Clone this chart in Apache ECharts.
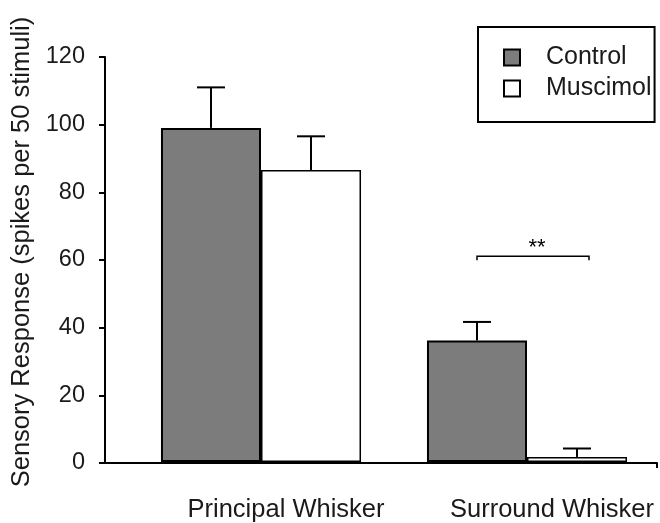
<!DOCTYPE html>
<html><head><meta charset="utf-8">
<script src="https://cdn.jsdelivr.net/npm/echarts@6/dist/echarts.min.js"></script>
<style>html,body{margin:0;padding:0;background:#fff}#c{width:660px;height:523px}</style>
</head><body><div id="c"></div>
<script>
const categories = ['Principal Whisker', 'Surround Whisker'];
const seriesNames = ['Control', 'Muscimol'];
const controlValues = [99, 36];
const controlErrors = [12, 5.5];
const muscimolValues = [86.5, 1.5];
const muscimolErrors = [10, 2.5];
const yMin = 0, yMax = 120, yStep = 20;
const sigCategory = [1];
const sigLevel = [61];
const sigLabel = ['**'];

const CAT_GAP = 0.248;
const FONT = '"Liberation Sans", Arial, sans-serif';
const TXT = '#1a1a1a';

function barOffset(api, sign) {
  const band = api.size([1, 0])[0];
  return sign * band * (1 - CAT_GAP) / 4;
}

function errorBarSeries(values, errors, sign) {
  return {
    type: 'custom', xAxisIndex: 0, yAxisIndex: 0, z: 5, silent: true,
    data: values.map((v, i) => [i, v, errors[i]]),
    encode: { x: 0, y: 1 },
    renderItem: function (params, api) {
      const c = api.value(0), v = api.value(1), e = api.value(2);
      const off = barOffset(api, sign);
      const base = api.coord([c, v]);
      const top = api.coord([c, v + e]);
      const x = base[0] + off;
      const half = 14;
      return { type: 'group', children: [
        { type: 'line', shape: { x1: x, y1: base[1], x2: x, y2: top[1] }, style: { stroke: '#000', lineWidth: 2 } },
        { type: 'line', shape: { x1: x - half, y1: top[1], x2: x + half, y2: top[1] }, style: { stroke: '#000', lineWidth: 2 } }
      ]};
    }
  };
}

const chart = echarts.init(document.getElementById('c'), null, { renderer: 'canvas' });
chart.setOption({
  animation: false,
  backgroundColor: '#fff',
  textStyle: { fontFamily: FONT },
  grid: [
    { left: 128, right: 0, top: 57, bottom: 60 },
    { left: 105, right: 3, top: 57, bottom: 60 }
  ],
  legend: {
    data: seriesNames.map(n => ({ name: n, icon: 'rect' })),
    orient: 'vertical',
    left: 478, top: 27,
    itemWidth: 16, itemHeight: 16,
    itemGap: -12,
    padding: [9, 3, 12, 25],
    borderColor: '#000', borderWidth: 2,
    textStyle: { fontFamily: FONT, fontSize: 25, color: TXT, lineHeight: 25, padding: [18, 0, 0, 21] },
    selectedMode: false
  },
  xAxis: [
    { type: 'category', gridIndex: 0, data: categories,
      axisLine: { show: false }, axisTick: { show: false },
      axisLabel: { interval: 0, hideOverlap: false, margin: 35, fontSize: 25.5, color: TXT, fontFamily: FONT,
        formatter: function (v) { return '{a|' + v + '}'; },
        rich: { a: { fontSize: 25.5, color: TXT, fontFamily: FONT, padding: [0, 0, 0, 50] } } },
      splitLine: { show: false } },
    { type: 'value', gridIndex: 1, min: 0, max: 1, interval: 1,
      axisLine: { show: true, lineStyle: { color: '#000', width: 2 } },
      axisTick: { show: true, length: 5, customValues: [1], lineStyle: { color: '#000', width: 2 } },
      axisLabel: { show: false }, splitLine: { show: false } }
  ],
  yAxis: [
    { type: 'value', gridIndex: 0, min: yMin, max: yMax, interval: yStep, show: false, splitLine: { show: false } },
    { type: 'value', gridIndex: 1, min: yMin, max: yMax, interval: yStep,
      name: 'Sensory Response (spikes per 50 stimuli)', nameLocation: 'middle', nameGap: 63,
      nameTextStyle: { fontSize: 25.5, color: TXT, fontFamily: FONT, padding: [0, 0, 0, 16] },
      axisLine: { show: true, lineStyle: { color: '#000', width: 2 } },
      axisTick: { show: true, length: 6, lineStyle: { color: '#000', width: 2 } },
      axisLabel: { margin: 20, fontSize: 23.5, color: TXT, fontFamily: FONT },
      splitLine: { show: false } }
  ],
  series: [
    { type: 'bar', name: seriesNames[0], xAxisIndex: 0, yAxisIndex: 0, data: controlValues,
      barGap: '0%', barCategoryGap: (CAT_GAP * 100) + '%',
      itemStyle: { color: '#7c7c7c', borderColor: '#000', borderWidth: 2 } },
    { type: 'bar', name: seriesNames[1], xAxisIndex: 0, yAxisIndex: 0, data: muscimolValues,
      itemStyle: { color: '#fff', borderColor: '#000', borderWidth: 1.5 } },
    errorBarSeries(controlValues, controlErrors, -1),
    errorBarSeries(muscimolValues, muscimolErrors, 1),
    { type: 'custom', xAxisIndex: 0, yAxisIndex: 0, silent: true, z: 6,
      data: sigCategory.map((c, i) => [c, sigLevel[i]]),
      encode: { x: 0, y: 1 },
      renderItem: function (params, api) {
        const c = api.value(0), y = api.value(1);
        const p = api.coord([c, y]);
        const off = barOffset(api, 1);
        const x1 = p[0] - off, x2 = p[0] + off + 12;
        return { type: 'group', children: [
          { type: 'polyline', shape: { points: [[x1, p[1] + 4], [x1, p[1]], [x2, p[1]], [x2, p[1] + 4]] },
            style: { stroke: '#000', lineWidth: 1.5, fill: null } },
          { type: 'text', style: { text: sigLabel[params.dataIndex], x: (x1 + x2) / 2 + 4, y: p[1] - 8,
            align: 'center', verticalAlign: 'middle', font: '22px ' + FONT, fill: '#000' } }
        ]};
      } }
  ]
});
</script>
</body></html>
